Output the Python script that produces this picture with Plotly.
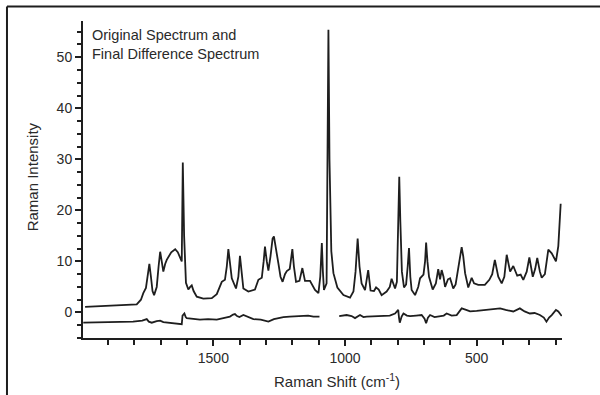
import plotly.graph_objects as go

# Original spectrum (Raman shift in cm^-1, intensity)
orig_shift = [1987, 1900, 1850, 1791, 1775, 1766, 1756, 1748, 1743, 1737, 1731, 1725, 1715, 1708, 1702,
              1696, 1690, 1683, 1677, 1660, 1645, 1635, 1628, 1620, 1616, 1611, 1604, 1595, 1588, 1582,
              1575, 1563, 1538, 1506, 1487, 1475, 1468, 1456, 1449, 1443, 1436, 1430, 1414, 1405, 1399,
              1392, 1386, 1367, 1342, 1329, 1316, 1309, 1304, 1297, 1291, 1283, 1275, 1270, 1262, 1253,
              1245, 1237, 1228, 1221, 1210, 1204, 1200, 1194, 1186, 1173, 1162, 1152, 1133, 1114, 1101,
              1094, 1088, 1084, 1080, 1070, 1066, 1063, 1059, 1052, 1044, 1029, 1006, 981, 968, 960,
              952, 945, 937, 924, 912, 903, 890, 882, 872, 861, 842, 830, 823, 815, 810,
              803, 797, 794, 790, 784, 776, 768, 762, 757, 752, 747, 734, 722, 715, 702,
              696, 692, 687, 681, 667, 655, 646, 639, 633, 626, 620, 609, 601, 589, 580,
              572, 557, 551, 544, 532, 519, 510, 494, 469, 452, 441, 431, 418, 405, 395,
              386, 373, 361, 346, 333, 323, 310, 300, 287, 278, 270, 260, 253, 241, 228,
              215, 199, 190, 181]
orig_intensity = [1.1, 1.3, 1.5, 1.6, 2.5, 3.8, 4.8, 7.5, 9.5, 7.0, 4.2, 3.4, 5.0, 9.0, 11.9,
                  10.0, 8.0, 9.5, 10.3, 11.8, 12.4, 11.8, 10.8, 10.0, 29.4, 15.0, 5.8, 4.5, 5.0, 5.3,
                  4.2, 3.1, 2.7, 2.8, 3.6, 5.0, 6.0, 6.4, 9.0, 12.4, 9.5, 6.7, 4.7, 7.0, 11.1,
                  7.0, 4.7, 4.1, 4.5, 6.4, 6.8, 10.0, 12.9, 10.0, 8.2, 11.0, 14.5, 14.9, 12.0, 9.6,
                  7.0, 6.0, 7.5, 8.1, 8.5, 11.0, 12.4, 9.0, 6.0, 6.2, 8.7, 6.2, 6.2, 4.4, 3.8,
                  7.0, 13.6, 8.0, 4.4, 5.7, 30.0, 55.4, 30.0, 12.0, 7.7, 4.9, 3.4, 2.9, 4.1, 8.0,
                  14.5, 9.0, 5.7, 4.4, 8.3, 4.3, 4.2, 4.9, 4.5, 3.4, 4.1, 5.0, 6.6, 5.2, 4.7,
                  6.0, 20.0, 26.6, 18.0, 8.0, 4.9, 5.5, 9.0, 12.6, 7.0, 4.4, 3.4, 5.0, 6.7, 7.4,
                  10.0, 13.7, 10.0, 7.0, 4.5, 5.7, 8.5, 6.5, 8.3, 7.0, 5.0, 6.5, 6.7, 4.7, 5.5,
                  8.3, 12.8, 11.0, 7.7, 4.9, 6.8, 5.7, 5.4, 5.4, 6.4, 7.5, 10.3, 7.0, 5.7, 7.0,
                  11.3, 8.0, 9.1, 7.2, 7.4, 6.4, 8.0, 10.8, 7.0, 8.5, 10.7, 8.0, 6.8, 7.5, 12.3,
                  11.6, 10.0, 13.0, 21.3]

# Final difference spectrum (None = gap)
diff_shift = [1994, 1900, 1805, 1770, 1753, 1745, 1734, 1715, 1702, 1690, 1677, 1650, 1620, 1617, 1610,
              1605, 1601, 1551, 1520, 1487, 1460, 1437, 1425, 1418, 1410, 1401, 1386, 1370, 1348, 1320,
              1300, 1291, 1270, 1250, 1234, 1210, 1183, 1171, 1140, 1120, 1097, 1060, 1022, 994, 975,
              962, 943, 930, 918, 885, 855, 830, 810, 798, 795, 792, 785, 778, 765, 753,
              730, 709, 698, 692, 685, 677, 660, 639, 625, 614, 595, 576, 565, 557, 540,
              525, 500, 462, 430, 411, 390, 361, 336, 318, 298, 280, 260, 245, 235, 225,
              215, 199, 190, 177]
diff_intensity = [-2.0, -1.9, -1.8, -1.6, -1.3, -1.8, -2.0, -1.7, -1.6, -1.9, -2.0, -2.1, -2.3, -0.6, -0.2,
                  -0.9, -1.1, -1.4, -1.3, -1.4, -1.1, -0.8, -0.4, -0.3, -0.7, -0.9, -0.5, -0.9, -1.3, -1.4,
                  -1.6, -1.8, -1.3, -1.0, -0.9, -0.8, -0.7, -0.7, -0.6, -0.8, -0.8, None, -0.7, -0.5, -0.7,
                  -1.1, -0.5, -0.9, -0.8, -0.7, -0.7, -0.6, -0.2, 0.5, -1.0, -2.0, -0.8, -0.2, -0.6, -0.7,
                  -0.6, -0.5, -1.2, -2.1, -1.0, -0.5, -0.9, -0.8, -0.6, -0.2, -0.6, -0.5, 0.2, 0.8, 0.5,
                  0.2, 0.3, 0.5, 0.6, 0.8, 0.5, 0.2, 0.8, 0.2, -0.2, -0.1, -0.5, -1.0, -1.8, -1.0,
                  -0.5, 0.5, 0.2, -0.7]

x_major = [1500, 1000, 500]
x_major_labels = ["1500", "1000", "500"]
y_major = [0, 10, 20, 30, 40, 50]

FONT = "Liberation Sans, Arial, sans-serif"
INK = "#1e1e1e"
TXT = "#2a2a2a"

fig = go.Figure()
fig.add_trace(go.Scatter(x=orig_shift, y=orig_intensity, mode="lines",
                         line=dict(color=INK, width=1.8), hoverinfo="skip"))
fig.add_trace(go.Scatter(x=diff_shift, y=diff_intensity, mode="lines", connectgaps=False,
                         line=dict(color=INK, width=1.8), hoverinfo="skip"))

fig.update_layout(
    width=600, height=395,
    margin=dict(l=83, r=38, t=21, b=57),
    paper_bgcolor="white", plot_bgcolor="white",
    showlegend=False,
    font=dict(family=FONT, size=14, color=TXT),
    xaxis=dict(range=[1995, 176], showline=True, linewidth=2, linecolor=INK,
               ticks="outside", ticklen=6, tickwidth=2, tickcolor=INK,
               tickvals=x_major, ticktext=x_major_labels,
               minor=dict(dtick=100, tick0=0, ticks="outside", ticklen=5, tickwidth=2, tickcolor=INK, showgrid=False),
               showgrid=False, zeroline=False, tickfont=dict(size=14, family=FONT, color=TXT)),
    yaxis=dict(range=[-5, 57.1], showline=True, linewidth=2, linecolor=INK,
               ticks="outside", ticklen=6, tickwidth=2, tickcolor=INK,
               tickvals=y_major,
               minor=dict(dtick=2.5, tick0=0, ticks="outside", ticklen=4, tickwidth=2, tickcolor=INK, showgrid=False),
               showgrid=False, zeroline=False, tickfont=dict(size=14, family=FONT, color=TXT)),
    annotations=[
        dict(text="Original Spectrum and<br>Final Difference Spectrum", xref="paper", yref="paper",
             x=0.0146, y=0.988, xanchor="left", yanchor="top", align="left", showarrow=False,
             font=dict(size=14.5, family=FONT, color=TXT)),
        dict(text="Raman Intensity", xref="paper", yref="paper", x=-0.1065, y=0.51,
             xanchor="center", yanchor="middle", textangle=-90, showarrow=False,
             font=dict(size=15, family=FONT, color=TXT)),
        dict(text="Raman Shift (cm<sup>-1</sup>)", xref="paper", yref="paper", x=0.53, y=-0.1325,
             xanchor="center", yanchor="middle", showarrow=False,
             font=dict(size=15, family=FONT, color=TXT)),
    ],
    shapes=[
        dict(type="line", xref="paper", yref="paper", x0=-0.1587, x1=1.08, y0=1.0457, y1=1.0457,
             line=dict(color=INK, width=2)),
        dict(type="line", xref="paper", yref="paper", x0=-0.1587, x1=-0.1587, y0=1.0457, y1=-0.19,
             line=dict(color=INK, width=2)),
    ],
)

fig.write_html("out.html")
